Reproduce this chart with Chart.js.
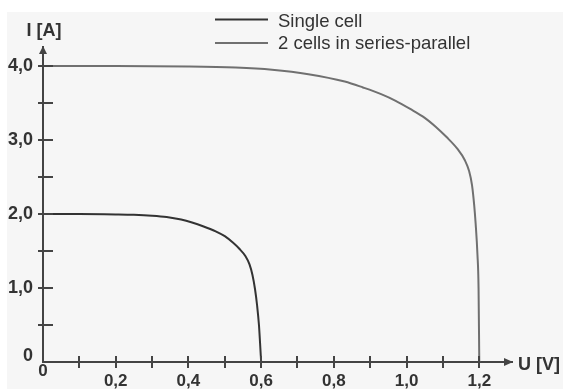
<!DOCTYPE html>
<html>
<head>
<meta charset="utf-8">
<script src="https://cdn.jsdelivr.net/npm/chart.js@4/dist/chart.umd.min.js"></script>
<style>
    html, body { margin: 0; padding: 0; background: #ffffff; }
    #wrap { position: relative; width: 563px; height: 389px; overflow: hidden; }
    #paper { position: absolute; left: 7px; top: 12px; right: 0; bottom: 0; background: #f6f6f6; }
    #chart { position: absolute; left: 0; top: 0; }
</style>
</head>
<body>
<div id="wrap">
    <div id="paper"></div>
    <canvas id="chart" width="563" height="389"></canvas>
</div>
<script>
// values (U in volts, I in amperes)
const seriesLabels = ['Single cell', '2 cells in series-parallel'];

const singleU = [0, 0.1, 0.2, 0.25, 0.3, 0.34, 0.38, 0.41, 0.44, 0.475, 0.5, 0.523, 0.54, 0.557, 0.568, 0.576, 0.583, 0.589, 0.594, 0.597, 0.6];
const singleI = [2.0, 2.0, 1.995, 1.99, 1.978, 1.96, 1.925, 1.885, 1.835, 1.765, 1.7, 1.61, 1.53, 1.43, 1.32, 1.18, 0.99, 0.76, 0.5, 0.26, 0];

const doubleU = [0, 0.2, 0.4, 0.53, 0.63, 0.73, 0.83, 0.88, 0.93, 0.97, 1.01, 1.05, 1.08, 1.11, 1.14, 1.16, 1.172, 1.18, 1.186, 1.19, 1.195, 1.198, 1.2];
const doubleI = [4.0, 4.0, 3.995, 3.98, 3.95, 3.89, 3.79, 3.71, 3.62, 3.53, 3.42, 3.3, 3.18, 3.04, 2.88, 2.73, 2.58, 2.39, 2.12, 1.87, 1.45, 1.0, 0];

const xLabelled = [0, 0.2, 0.4, 0.6, 0.8, 1.0, 1.2];
const yLabelled = [0, 1, 2, 3, 4];
const xTitle = 'U [V]';
const yTitle = 'I [A]';

const axisColor = '#444444';
const textColor = '#333333';
const fontFamily = "'Liberation Sans', Arial, sans-serif";

function toPoints(xs, ys) {
    let pts = [];
    for (let i = 0; i < xs.length; i++) {
        pts.push({ x: xs[i], y: ys[i] });
    }
    return pts;
}

function commaLabel(v) {
    return v === 0 ? '0' : v.toFixed(1).replace('.', ',');
}

function isLabelled(list, v) {
    return list.some(l => Math.abs(l - v) < 1e-6);
}

// crossing tick marks, arrow heads, axis titles and the legend
const axisExtras = {
    id: 'axisExtras',
    afterDraw(chart) {
        const ctx = chart.ctx;
        const { left, right, top, bottom } = chart.chartArea;
        const x = chart.scales.x;
        const y = chart.scales.y;

        ctx.save();
        ctx.strokeStyle = axisColor;
        ctx.fillStyle = axisColor;
        ctx.lineWidth = 2;

        ctx.beginPath();
        x.ticks.forEach((t, i) => {
            if (t.value === 0) return;
            let px = Math.round(x.getPixelForTick(i));
            ctx.moveTo(px, bottom - 6);
            ctx.lineTo(px, bottom + 6);
        });
        y.ticks.forEach((t, i) => {
            if (t.value === 0) return;
            let py = Math.round(y.getPixelForTick(i));
            ctx.moveTo(left - 5, py);
            ctx.lineTo(left + 10, py);
        });
        ctx.stroke();

        // arrow heads
        ctx.beginPath();
        ctx.moveTo(right + 1, bottom);
        ctx.lineTo(right - 8, bottom - 4);
        ctx.lineTo(right - 8, bottom + 4);
        ctx.closePath();
        ctx.fill();
        ctx.beginPath();
        ctx.moveTo(left, top - 1);
        ctx.lineTo(left - 4, top + 7);
        ctx.lineTo(left + 4, top + 7);
        ctx.closePath();
        ctx.fill();

        // axis titles
        ctx.fillStyle = textColor;
        ctx.font = 'bold 18px ' + fontFamily;
        ctx.textBaseline = 'middle';
        ctx.textAlign = 'center';
        ctx.fillText(yTitle, left + 1, 31);
        ctx.textAlign = 'left';
        ctx.fillText(xTitle, right + 6, bottom + 3);

        // legend
        ctx.font = '18.5px ' + fontFamily;
        ctx.textBaseline = 'alphabetic';
        chart.data.datasets.forEach((ds, i) => {
            let ly = 19.5 + i * 23.5;
            ctx.strokeStyle = ds.borderColor;
            ctx.lineWidth = 2;
            ctx.beginPath();
            ctx.moveTo(215, ly);
            ctx.lineTo(268, ly);
            ctx.stroke();
            ctx.fillStyle = textColor;
            ctx.fillText(ds.label, 278, 27 + i * 22);
        });
        ctx.restore();
    }
};

function createChart() {
    let chartCtx = document.getElementById('chart').getContext('2d');

    let data = {
        datasets: [{
            label: seriesLabels[0],
            data: toPoints(singleU, singleI),
            borderColor: '#333333',
            borderWidth: 2,
            pointRadius: 0,
            showLine: true,
            cubicInterpolationMode: 'monotone',
        }, {
            label: seriesLabels[1],
            data: toPoints(doubleU, doubleI),
            borderColor: '#707070',
            borderWidth: 2,
            pointRadius: 0,
            showLine: true,
            cubicInterpolationMode: 'monotone',
        }]
    };

    new Chart(chartCtx, {
        type: 'scatter',
        data: data,
        options: {
            responsive: false,
            animation: false,
            events: [],
            layout: {
                padding: { top: 47, right: 51, left: 0, bottom: 0 }
            },
            plugins: {
                legend: { display: false },
                tooltip: { enabled: false }
            },
            scales: {
                x: {
                    type: 'linear',
                    min: 0,
                    max: 1.29,
                    afterFit: (scale) => { scale.height = 27; },
                    grid: { display: false, drawTicks: false },
                    border: { display: true, color: axisColor, width: 2 },
                    ticks: {
                        stepSize: 0.1,
                        includeBounds: false,
                        autoSkip: false,
                        maxRotation: 0,
                        padding: 2,
                        color: textColor,
                        font: (c) => ({
                            family: fontFamily,
                            size: 17,
                            weight: 'bold',
                            lineHeight: c.tick && c.tick.value === 0 ? '14px' : '34px'
                        }),
                        callback: (v) => isLabelled(xLabelled, v) ? commaLabel(v) : ''
                    }
                },
                y: {
                    type: 'linear',
                    min: 0,
                    max: 4.257,
                    afterFit: (scale) => { scale.width = 43; },
                    grid: { display: false, drawTicks: false },
                    border: { display: true, color: axisColor, width: 2 },
                    ticks: {
                        stepSize: 0.5,
                        includeBounds: false,
                        autoSkip: false,
                        padding: 10,
                        color: textColor,
                        font: (c) => ({
                            family: fontFamily,
                            size: 18,
                            weight: 'bold',
                            lineHeight: c.tick && c.tick.value === 0 ? '12px' : 1.2
                        }),
                        callback: (v) => {
                            if (!isLabelled(yLabelled, v)) return '';
                            return v === 0 ? ['0', ''] : commaLabel(v);
                        }
                    }
                }
            }
        },
        plugins: [axisExtras]
    });
}

createChart();
</script>
</body>
</html>
